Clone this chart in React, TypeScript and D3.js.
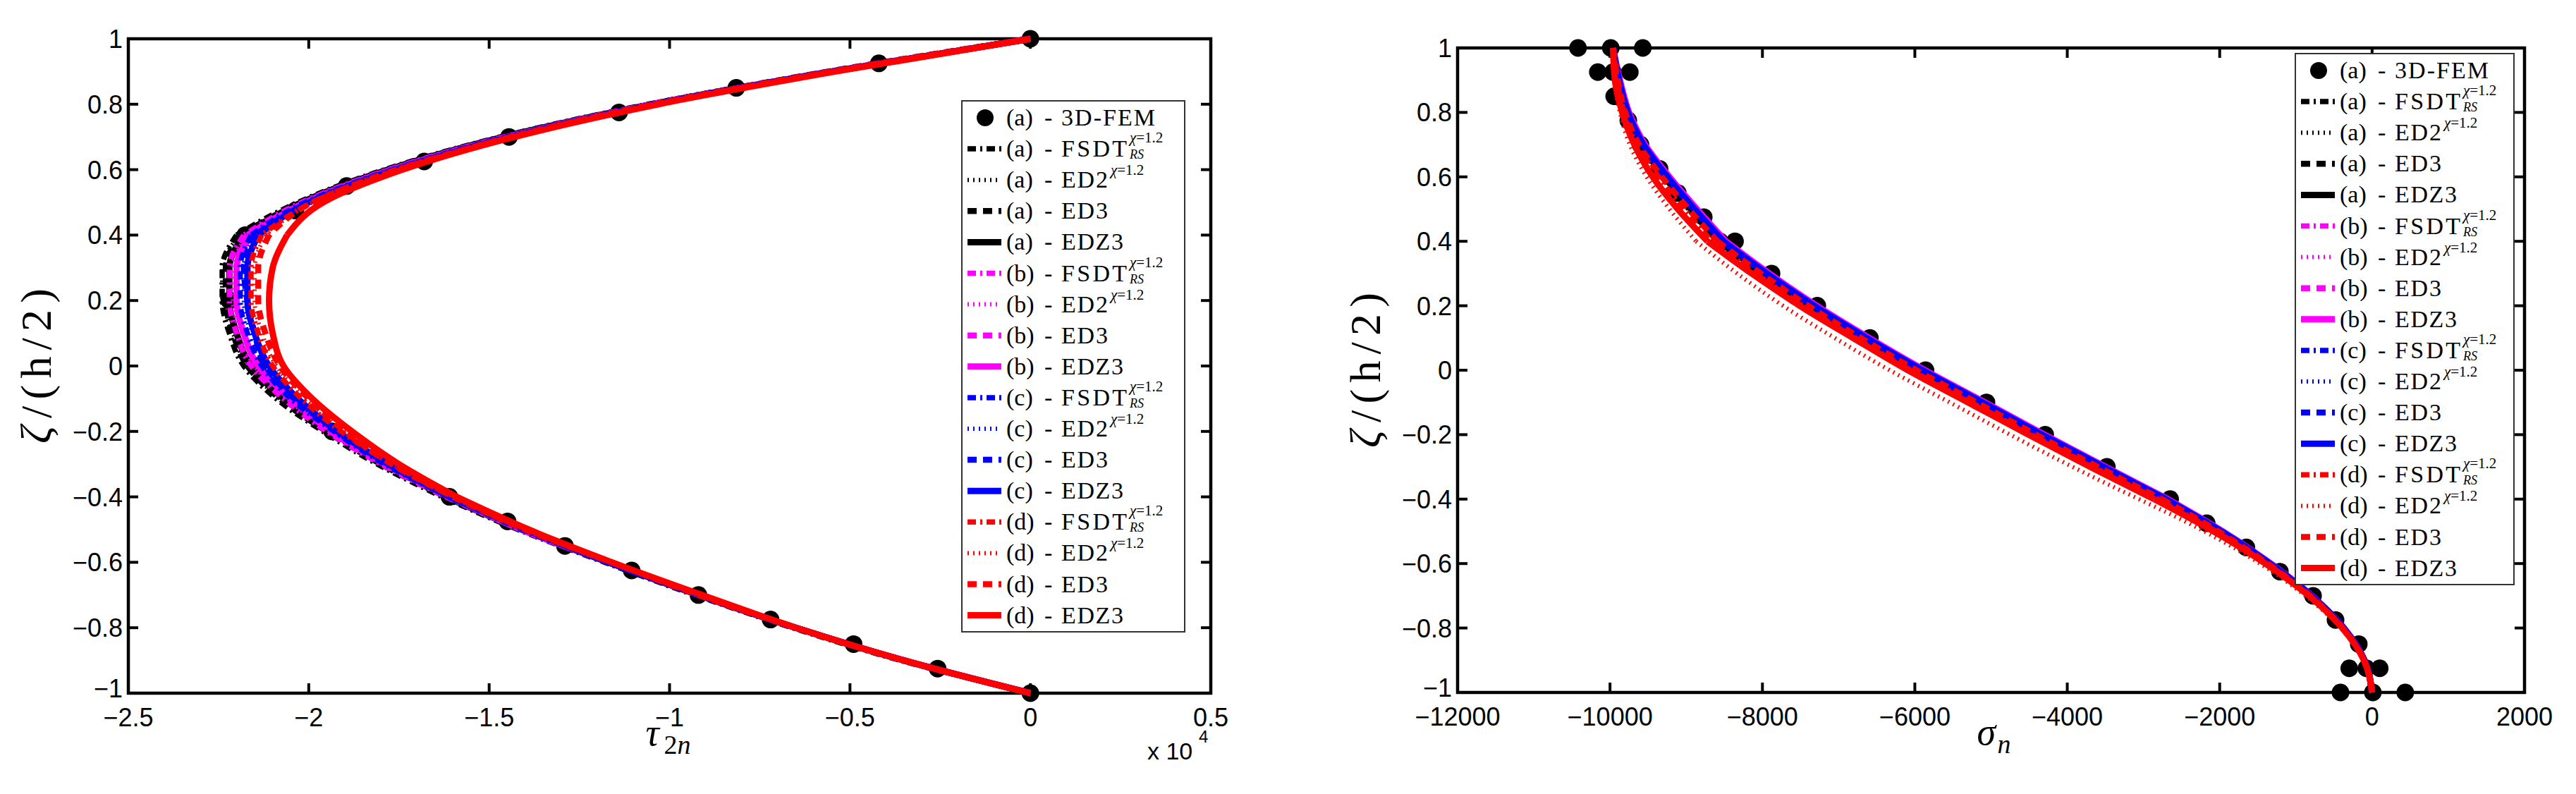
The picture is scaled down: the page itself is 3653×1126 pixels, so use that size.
import React from 'react';
import * as d3 from 'd3';

// through-thickness coordinate used by every model curve
const zetaGrid = [1, 0.9, 0.8, 0.7, 0.6, 0.5, 0.4, 0.3, 0.2, 0.1, 0, -0.1, -0.2, -0.3, -0.4, -0.5, -0.6, -0.7, -0.8, -0.9, -1];

// ---- left panel: tau_2n (x 1e4) ----
const tauA_FSDT = [0, -0.56, -1.06, -1.47, -1.79, -2.03, -2.2, -2.24, -2.24, -2.22, -2.18, -2.09, -1.96, -1.81, -1.63, -1.42, -1.18, -0.93, -0.66, -0.36, 0];
const tauA_ED2 = [0, -0.56, -1.05, -1.46, -1.78, -2.02, -2.19, -2.24, -2.24, -2.21, -2.17, -2.08, -1.95, -1.8, -1.62, -1.41, -1.17, -0.92, -0.65, -0.35, 0];
const tauA_ED3 = [0, -0.56, -1.05, -1.46, -1.78, -2.02, -2.19, -2.23, -2.23, -2.21, -2.17, -2.08, -1.95, -1.8, -1.62, -1.41, -1.17, -0.92, -0.65, -0.35, 0];
const tauA_EDZ3 = [0, -0.55, -1.05, -1.46, -1.78, -2.02, -2.18, -2.22, -2.22, -2.2, -2.16, -2.07, -1.94, -1.79, -1.62, -1.41, -1.17, -0.92, -0.65, -0.35, 0];
const tauB_FSDT = [0, -0.56, -1.05, -1.46, -1.78, -2.02, -2.18, -2.22, -2.22, -2.2, -2.16, -2.07, -1.95, -1.8, -1.62, -1.41, -1.17, -0.92, -0.65, -0.35, 0];
const tauB_ED2 = [0, -0.55, -1.05, -1.46, -1.77, -2.01, -2.17, -2.21, -2.21, -2.19, -2.15, -2.06, -1.94, -1.79, -1.61, -1.41, -1.17, -0.92, -0.65, -0.35, 0];
const tauB_ED3 = [0, -0.55, -1.05, -1.45, -1.77, -2.01, -2.17, -2.2, -2.2, -2.18, -2.14, -2.05, -1.94, -1.79, -1.61, -1.41, -1.17, -0.92, -0.65, -0.35, 0];
const tauB_EDZ3 = [0, -0.55, -1.04, -1.45, -1.77, -2.01, -2.16, -2.2, -2.2, -2.18, -2.14, -2.05, -1.93, -1.79, -1.61, -1.41, -1.17, -0.92, -0.65, -0.35, 0];
const tauC_FSDT = [0, -0.55, -1.04, -1.45, -1.77, -2.01, -2.16, -2.19, -2.19, -2.17, -2.13, -2.05, -1.93, -1.79, -1.61, -1.41, -1.17, -0.92, -0.65, -0.35, 0];
const tauC_ED2 = [0, -0.55, -1.04, -1.45, -1.77, -2.0, -2.15, -2.18, -2.18, -2.16, -2.12, -2.04, -1.93, -1.78, -1.61, -1.4, -1.17, -0.92, -0.65, -0.35, 0];
const tauC_ED3 = [0, -0.55, -1.04, -1.45, -1.76, -2.0, -2.15, -2.18, -2.17, -2.15, -2.12, -2.04, -1.92, -1.78, -1.61, -1.4, -1.17, -0.92, -0.65, -0.35, 0];
const tauC_EDZ3 = [0, -0.55, -1.04, -1.44, -1.76, -2.0, -2.14, -2.17, -2.17, -2.15, -2.11, -2.03, -1.92, -1.78, -1.61, -1.4, -1.17, -0.92, -0.65, -0.35, 0];
const tauD_FSDT = [0, -0.55, -1.04, -1.44, -1.76, -1.99, -2.13, -2.16, -2.16, -2.14, -2.1, -2.02, -1.91, -1.77, -1.6, -1.4, -1.16, -0.92, -0.65, -0.35, 0];
const tauD_ED2 = [0, -0.55, -1.04, -1.44, -1.76, -1.99, -2.12, -2.15, -2.15, -2.13, -2.09, -2.01, -1.9, -1.77, -1.6, -1.4, -1.16, -0.92, -0.65, -0.35, 0];
const tauD_ED3 = [0, -0.55, -1.04, -1.44, -1.75, -1.99, -2.11, -2.14, -2.14, -2.12, -2.08, -2.0, -1.9, -1.77, -1.6, -1.4, -1.16, -0.92, -0.65, -0.35, 0];
const tauD_EDZ3 = [0, -0.54, -1.03, -1.43, -1.74, -1.96, -2.06, -2.1, -2.11, -2.1, -2.07, -1.99, -1.88, -1.75, -1.59, -1.39, -1.16, -0.91, -0.65, -0.35, 0];

const femZetaLeft = [1, 0.925, 0.85, 0.775, 0.7, 0.625, 0.55, 0.475, 0.4, 0.2, 0, -0.2, -0.4, -0.475, -0.55, -0.625, -0.7, -0.775, -0.85, -0.925, -1];
const femTauLeft = [0, -0.42, -0.815, -1.14, -1.445, -1.68, -1.895, -2.037, -2.176, -2.22, -2.14, -1.935, -1.61, -1.449, -1.29, -1.105, -0.92, -0.72, -0.49, -0.257, 0];

// ---- right panel: sigma_n ----
const sigA_FSDT = [-9960, -9895, -9795, -9608, -9310, -8968, -8592, -8022, -7402, -6712, -5982, -5192, -4410, -3600, -2762, -2012, -1363, -810, -381, -103, 0];
const sigA_ED2 = [-9960, -9898, -9800, -9615, -9320, -8980, -8605, -8035, -7415, -6725, -5995, -5205, -4420, -3610, -2770, -2018, -1366, -812, -382, -104, 0];
const sigA_ED3 = [-9960, -9893, -9790, -9600, -9300, -8955, -8580, -8010, -7390, -6700, -5970, -5180, -4400, -3590, -2755, -2008, -1360, -808, -380, -103, 0];
const sigA_EDZ3 = [-9960, -9890, -9785, -9590, -9285, -8940, -8565, -7995, -7375, -6685, -5955, -5165, -4385, -3575, -2745, -2000, -1355, -805, -378, -102, 0];
const sigB_FSDT = [-9960, -9878, -9760, -9555, -9245, -8885, -8505, -7940, -7320, -6630, -5900, -5110, -4330, -3525, -2700, -1970, -1338, -796, -373, -100, 0];
const sigB_ED2 = [-9960, -9880, -9765, -9565, -9255, -8900, -8520, -7950, -7330, -6640, -5910, -5120, -4340, -3535, -2705, -1975, -1340, -798, -374, -101, 0];
const sigB_ED3 = [-9960, -9875, -9755, -9550, -9235, -8875, -8495, -7925, -7305, -6615, -5885, -5095, -4315, -3515, -2690, -1965, -1335, -795, -372, -100, 0];
const sigB_EDZ3 = [-9960, -9870, -9750, -9540, -9220, -8860, -8480, -7910, -7290, -6600, -5870, -5080, -4300, -3500, -2680, -1960, -1330, -790, -370, -100, 0];
const sigC_FSDT = [-9960, -9888, -9775, -9578, -9270, -8915, -8535, -7965, -7345, -6655, -5925, -5135, -4355, -3550, -2720, -1985, -1345, -798, -374, -101, 0];
const sigC_ED2 = [-9960, -9890, -9780, -9585, -9280, -8930, -8550, -7980, -7360, -6670, -5940, -5150, -4370, -3560, -2730, -1990, -1348, -800, -375, -102, 0];
const sigC_ED3 = [-9960, -9885, -9770, -9570, -9260, -8905, -8525, -7955, -7335, -6645, -5915, -5125, -4345, -3540, -2715, -1980, -1343, -797, -373, -101, 0];
const sigC_EDZ3 = [-9960, -9880, -9765, -9560, -9245, -8890, -8510, -7940, -7320, -6630, -5900, -5110, -4330, -3525, -2705, -1975, -1340, -795, -372, -100, 0];
const sigD_FSDT = [-9960, -9905, -9815, -9650, -9360, -9030, -8660, -8090, -7470, -6780, -6050, -5260, -4470, -3660, -2810, -2050, -1390, -825, -390, -106, 0];
const sigD_ED2 = [-9960, -9945, -9870, -9740, -9520, -9220, -8870, -8330, -7730, -7050, -6330, -5540, -4750, -3930, -3060, -2200, -1470, -875, -412, -110, 0];
const sigD_ED3 = [-9960, -9898, -9800, -9620, -9320, -8970, -8590, -8020, -7400, -6710, -5980, -5190, -4410, -3600, -2760, -2020, -1370, -815, -385, -105, 0];
const sigD_EDZ3 = [-9960, -9935, -9840, -9680, -9440, -9110, -8720, -8140, -7510, -6810, -6090, -5300, -4510, -3700, -2860, -2080, -1400, -830, -392, -107, 0];

const femZetaRight = [1, 1, 1, 0.925, 0.925, 0.925, 0.85, 0.775, 0.7, 0.625, 0.55, 0.475, 0.4, 0.4, 0.3, 0.2, 0.1, 0, -0.1, -0.2, -0.3, -0.4, -0.475, -0.55, -0.625, -0.7, -0.775, -0.85, -0.925, -0.925, -0.925, -1, -1, -1];
const femSigmaRight = [-10420, -9990, -9570, -10160, -9960, -9740, -9945, -9760, -9600, -9350, -9110, -8770, -8560, -8360, -7880, -7280, -6590, -5860, -5060, -4290, -3480, -2650, -2170, -1650, -1210, -775, -480, -175, -300, -75, 100, -415, 10, 435];

// ---- axes ticks ----
const yTicks = [-1, -0.8, -0.6, -0.4, -0.2, 0, 0.2, 0.4, 0.6, 0.8, 1];
const yTickLabels = ['\u22121', '\u22120.8', '\u22120.6', '\u22120.4', '\u22120.2', '0', '0.2', '0.4', '0.6', '0.8', '1'];
const tauTicks = [-2.5, -2, -1.5, -1, -0.5, 0, 0.5];
const tauTickLabels = ['\u22122.5', '\u22122', '\u22121.5', '\u22121', '\u22120.5', '0', '0.5'];
const sigTicks = [-12000, -10000, -8000, -6000, -4000, -2000, 0, 2000];
const sigTickLabels = ['\u221212000', '\u221210000', '\u22128000', '\u22126000', '\u22124000', '\u22122000', '0', '2000'];

// ---- legend ----
const caseLabels = ['(a)', '(b)', '(c)', '(d)'];
const caseColors = ['#000000', '#ff00ff', '#0000ff', '#ff0000'];
const modelNames = ['FSDT', 'ED2', 'ED3', 'EDZ3'];
const modelStyles = ['dashdot', 'dotted', 'dashed', 'solid'];

const leftSeries = [
  tauA_FSDT, tauA_ED2, tauA_ED3, tauA_EDZ3,
  tauB_FSDT, tauB_ED2, tauB_ED3, tauB_EDZ3,
  tauC_FSDT, tauC_ED2, tauC_ED3, tauC_EDZ3,
  tauD_FSDT, tauD_ED2, tauD_ED3, tauD_EDZ3,
];
const rightSeries = [
  sigA_FSDT, sigA_ED2, sigA_ED3, sigA_EDZ3,
  sigB_FSDT, sigB_ED2, sigB_ED3, sigB_EDZ3,
  sigC_FSDT, sigC_ED2, sigC_ED3, sigC_EDZ3,
  sigD_FSDT, sigD_ED2, sigD_ED3, sigD_EDZ3,
];

const strokeFor = (style: string) => {
  if (style === 'solid') return { w: 9, dash: undefined as string | undefined };
  if (style === 'dashed') return { w: 8.5, dash: '13 9' };
  if (style === 'dashdot') return { w: 7.5, dash: '12 6 3 6' };
  return { w: 6, dash: '2 6' };
};

const tickFont = 'Liberation Sans, Arial, sans-serif';
const serifFont = 'Liberation Serif, Times New Roman, serif';

// widths of the model names in the legend
const nameWidth: Record<string, number> = { FSDT: 93, ED2: 66, ED3: 66, EDZ3: 88, '3D-FEM': 133 };

interface PanelProps {
  xDomain: [number, number];
  xRange: [number, number];
  yRange: [number, number];
  xTicks: number[];
  xTickLabels: string[];
  series: number[][];
  femX: number[];
  femZ: number[];
  legend: { x: number; y: number; w: number; h: number };
  xLabel: 'tau' | 'sigma';
  showExponent?: boolean;
}

const Panel: React.FC<PanelProps> = ({ xDomain, xRange, yRange, xTicks, xTickLabels, series, femX, femZ, legend, xLabel, showExponent }) => {
  const x = d3.scaleLinear().domain(xDomain).range(xRange);
  const y = d3.scaleLinear().domain([-1, 1]).range(yRange);
  const line = d3.line<[number, number]>().x(d => x(d[0])).y(d => y(d[1])).curve(d3.curveMonotoneY);
  // face / core / face pieces keep the kinks at the interfaces
  const pieces: [number, number][] = [[0, 6], [6, 14], [14, 20]];

  const [x0, x1] = xRange;
  const [yb, yt] = yRange;
  const tickLen = 14;
  const midX = (x0 + x1) / 2;
  const midY = (yb + yt) / 2;

  const rowH = 44.1;
  const firstRow = legend.y + 24;
  const yLabLen = 220;
  const fs = 34;

  return (
    <g>
      {/* axes box & ticks */}
      <rect x={x0} y={yt} width={x1 - x0} height={yb - yt} fill="none" stroke="#000" strokeWidth={4.5} />
      {xTicks.map((t, i) => (
        <g key={'xt' + i}>
          <line x1={x(t)} x2={x(t)} y1={yb} y2={yb - tickLen} stroke="#000" strokeWidth={4} />
          <line x1={x(t)} x2={x(t)} y1={yt} y2={yt + tickLen} stroke="#000" strokeWidth={4} />
          <text x={x(t)} y={yb + 47} textAnchor="middle" fontFamily={tickFont} fontSize={36}>{xTickLabels[i]}</text>
        </g>
      ))}
      {yTicks.map((t, i) => (
        <g key={'yt' + i}>
          <line x1={x0} x2={x0 + tickLen} y1={y(t)} y2={y(t)} stroke="#000" strokeWidth={4} />
          <line x1={x1} x2={x1 - tickLen} y1={y(t)} y2={y(t)} stroke="#000" strokeWidth={4} />
          {/* the bottom label is nudged up so it clears the first x label */}
          <text x={x0 - 8} y={y(t) - (i === 0 ? 7 : 0)} dy="0.36em" textAnchor="end" fontFamily={tickFont} fontSize={36}>{yTickLabels[i]}</text>
        </g>
      ))}

      {/* y label, rotated */}
      <g transform={`translate(${x0 - 110},${midY}) rotate(-90)`}>
        <text x={-yLabLen / 2} y={0} fontFamily={serifFont} fontSize={62} fontStyle="italic">ζ</text>
        <text x={-yLabLen / 2 + 36} y={0} fontFamily={serifFont} fontSize={62} textLength={yLabLen - 36} lengthAdjust="spacing">/(h/2)</text>
      </g>

      {/* x label */}
      {xLabel === 'tau' ? (
        <g>
          <text x={midX - 34} y={yb + 74} fontFamily={serifFont} fontSize={54} fontStyle="italic">τ</text>
          <text x={midX - 8} y={yb + 86} fontFamily={serifFont} fontSize={38}>
            2<tspan fontStyle="italic">n</tspan>
          </text>
        </g>
      ) : (
        <g>
          <text x={midX - 20} y={yb + 74} fontFamily={serifFont} fontSize={54} fontStyle="italic">σ</text>
          <text x={midX + 9} y={yb + 86} fontFamily={serifFont} fontSize={38} fontStyle="italic">n</text>
        </g>
      )}
      {showExponent && (
        <g>
          <text x={x1 - 90} y={yb + 94} fontFamily={tickFont} fontSize={34}>x 10</text>
          <text x={x1 - 17} y={yb + 70} fontFamily={tickFont} fontSize={24}>4</text>
        </g>
      )}

      {/* 3D-FEM reference points */}
      {femX.map((v, i) => (
        <circle key={'fem' + i} cx={x(v)} cy={y(femZ[i])} r={12.5} fill="#000" />
      ))}

      {/* model curves */}
      {series.map((vals, si) => {
        const s = strokeFor(modelStyles[si % 4]);
        const color = caseColors[Math.floor(si / 4)];
        const pts: [number, number][] = vals.map((v, k) => [v, zetaGrid[k]]);
        return (
          <g key={'s' + si}>
            {pieces.map(([a, b], pi) => (
              <path key={pi} d={line(pts.slice(a, b + 1)) || ''} fill="none" stroke={color} strokeWidth={s.w} strokeDasharray={s.dash} strokeLinejoin="round" />
            ))}
          </g>
        );
      })}

      {/* legend */}
      <rect x={legend.x} y={legend.y} width={legend.w} height={legend.h} fill="#fff" stroke="#333" strokeWidth={2} />
      {Array.from({ length: 17 }, (_, row) => {
        const cy = firstRow + row * rowH;
        const base = cy + 11;
        const lx = legend.x;
        if (row === 0) {
          return (
            <g key="lg0">
              <circle cx={lx + 33} cy={cy} r={12} fill="#000" />
              <text x={lx + 63} y={base} fontFamily={serifFont} fontSize={fs}>(a)</text>
              <text x={lx + 117} y={base} fontFamily={serifFont} fontSize={fs}>-</text>
              <text x={lx + 141} y={base} fontFamily={serifFont} fontSize={fs} textLength={nameWidth['3D-FEM']} lengthAdjust="spacing">3D-FEM</text>
            </g>
          );
        }
        const si = row - 1;
        const model = modelNames[si % 4];
        const style = modelStyles[si % 4];
        const color = caseColors[Math.floor(si / 4)];
        const s = strokeFor(style);
        const nx = lx + 141;
        const nw = nameWidth[model];
        // the FSDT row stacks sup/sub; ED2 superscript sits a little lower
        const supY = model === 'FSDT' ? cy - 9 : cy - 7;
        return (
          <g key={'lg' + row}>
            <line x1={lx + 8} x2={lx + 56} y1={cy} y2={cy} stroke={color} strokeWidth={s.w} strokeDasharray={s.dash} />
            <text x={lx + 63} y={base} fontFamily={serifFont} fontSize={fs}>{caseLabels[Math.floor(si / 4)]}</text>
            <text x={lx + 117} y={base} fontFamily={serifFont} fontSize={fs}>-</text>
            <text x={nx} y={base} fontFamily={serifFont} fontSize={fs} textLength={nw} lengthAdjust="spacing">{model}</text>
            {(model === 'FSDT' || model === 'ED2') && (
              <text x={nx + nw + 4} y={supY} fontFamily={serifFont} fontSize={21}>
                <tspan fontStyle="italic">χ</tspan>=1.2
              </text>
            )}
            {model === 'FSDT' && (
              <text x={nx + nw + 4} y={cy + 14} fontFamily={serifFont} fontSize={18} fontStyle="italic">RS</text>
            )}
          </g>
        );
      })}
    </g>
  );
};

export default function App() {
  return (
    <svg width={3653} height={1126} style={{ position: 'absolute', left: 0, top: 0, background: '#fff' }}>
      <rect x={0} y={0} width={3653} height={1126} fill="#fff" />
      <Panel
        xDomain={[-2.5, 0.5]}
        xRange={[182, 1717]}
        yRange={[983, 55]}
        xTicks={tauTicks}
        xTickLabels={tauTickLabels}
        series={leftSeries}
        femX={femTauLeft}
        femZ={femZetaLeft}
        legend={{ x: 1364, y: 143, w: 316, h: 753 }}
        xLabel="tau"
        showExponent
      />
      <Panel
        xDomain={[-12000, 2000]}
        xRange={[2067, 3580]}
        yRange={[982, 68]}
        xTicks={sigTicks}
        xTickLabels={sigTickLabels}
        series={rightSeries}
        femX={femSigmaRight}
        femZ={femZetaRight}
        legend={{ x: 3255, y: 76, w: 310, h: 753 }}
        xLabel="sigma"
      />
    </svg>
  );
}
